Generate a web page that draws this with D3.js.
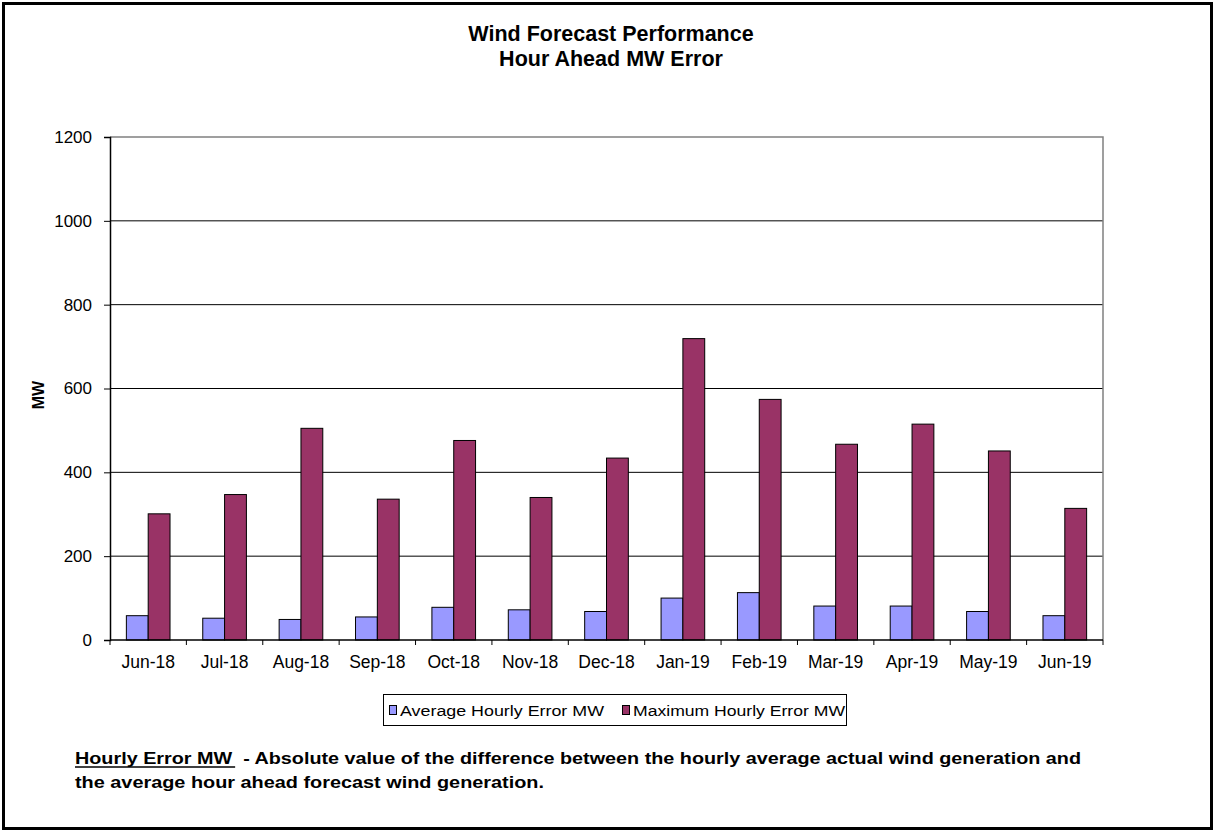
<!DOCTYPE html>
<html>
<head>
<meta charset="utf-8">
<script src="https://cdn.jsdelivr.net/npm/d3@7"></script>
<style>
  body { margin: 0; background: #fff; }
  text { font-family: "Liberation Sans", Arial, sans-serif; }
</style>
</head>
<body>
<svg id="chart" width="1215" height="833"></svg>
<script>
var months = ['Jun-18','Jul-18','Aug-18','Sep-18','Oct-18','Nov-18','Dec-18',
              'Jan-19','Feb-19','Mar-19','Apr-19','May-19','Jun-19'];
var avgError = [58, 52, 49, 55, 78, 72, 68, 100, 113, 81, 81, 68, 58];
var maxError = [301, 347, 505, 336, 476, 340, 434, 719, 574, 467, 515, 451, 314];
var yTicks = [0, 200, 400, 600, 800, 1000, 1200];
var seriesNames = ['Average Hourly Error MW', 'Maximum Hourly Error MW'];
var seriesColors = ['#9999ff', '#993366'];

var svg = d3.select('#chart');

// outer frame
svg.append('rect')
    .attr('x', 3.5).attr('y', 3.5)
    .attr('width', 1208).attr('height', 825)
    .attr('fill', '#fff')
    .attr('stroke', '#000')
    .attr('stroke-width', 3);

var plotLeft = 110, plotRight = 1103, plotTop = 137, plotBottom = 640;

var x = d3.scaleBand().domain(months).range([plotLeft, plotRight]);
var barW = x.bandwidth() / 3.5;
var y = d3.scaleLinear().domain([0, 1200]).range([plotBottom, plotTop]);

// title
svg.append('text')
    .attr('x', 611).attr('y', 41)
    .attr('text-anchor', 'middle')
    .attr('font-size', 21.5).attr('font-weight', 'bold')
    .text('Wind Forecast Performance');
svg.append('text')
    .attr('x', 611).attr('y', 66)
    .attr('text-anchor', 'middle')
    .attr('font-size', 21.5).attr('font-weight', 'bold')
    .text('Hour Ahead MW Error');

// gridlines
svg.append('g').selectAll('line')
    .data(yTicks.filter(function(d) { return d > 0 && d < 1200; }))
    .enter().append('line')
    .attr('x1', plotLeft).attr('x2', plotRight)
    .attr('y1', function(d) { return y(d); })
    .attr('y2', function(d) { return y(d); })
    .attr('stroke', '#000');

// plot border top/right (gray)
svg.append('path')
    .attr('d', 'M' + plotLeft + ',' + y(1200) + 'H' + plotRight + 'V' + plotBottom)
    .attr('fill', 'none')
    .attr('stroke', '#808080')
    .attr('stroke-width', 1.5);

// bars
var groups = svg.append('g').selectAll('g')
    .data(months)
    .enter().append('g')
    .attr('transform', function(d) {
        return 'translate(' + (x(d) + (x.bandwidth() - 2 * barW) / 2) + ',0)';
    });

groups.append('rect')
    .attr('x', 0)
    .attr('y', function(d, i) { return y(avgError[i]); })
    .attr('width', barW)
    .attr('height', function(d, i) { return plotBottom - y(avgError[i]); })
    .attr('fill', seriesColors[0])
    .attr('stroke', '#000');

groups.append('rect')
    .attr('x', barW)
    .attr('y', function(d, i) { return y(maxError[i]); })
    .attr('width', barW)
    .attr('height', function(d, i) { return plotBottom - y(maxError[i]); })
    .attr('fill', seriesColors[1])
    .attr('stroke', '#000');

// y axis
var yAxis = svg.append('g')
    .attr('transform', 'translate(' + plotLeft + ',0)')
    .call(d3.axisLeft(y).tickValues(yTicks).tickFormat(d3.format('d'))
        .tickSize(6).tickPadding(12));
yAxis.select('.domain').attr('stroke', '#000').attr('stroke-width', 1.5);
yAxis.selectAll('line').attr('stroke', '#000');
yAxis.selectAll('text').attr('font-size', 17).attr('fill', '#000')
    .style('font-family', '"Liberation Sans", Arial, sans-serif');

// x axis
var xTickPos = months.map(function(d) { return x(d); }).concat([plotRight]);
var xAxis = svg.append('g')
    .attr('transform', 'translate(0,' + plotBottom + ')');
xAxis.append('line')
    .attr('x1', plotLeft).attr('x2', plotRight)
    .attr('stroke', '#000').attr('stroke-width', 1.5);
xAxis.selectAll('line.tick')
    .data(xTickPos)
    .enter().append('line')
    .attr('class', 'tick')
    .attr('x1', function(d) { return d; })
    .attr('x2', function(d) { return d; })
    .attr('y1', 0).attr('y2', 5)
    .attr('stroke', '#000');
xAxis.selectAll('text')
    .data(months)
    .enter().append('text')
    .attr('x', function(d) { return x(d) + x.bandwidth() / 2; })
    .attr('y', 28)
    .attr('text-anchor', 'middle')
    .attr('font-size', 17.5)
    .text(function(d) { return d; });

// y title
svg.append('text')
    .attr('transform', 'translate(44,395) rotate(-90)')
    .attr('text-anchor', 'middle')
    .attr('font-size', 16).attr('font-weight', 'bold')
    .text('MW');

// legend
var legend = svg.append('g');
legend.append('rect')
    .attr('x', 383.5).attr('y', 694.5)
    .attr('width', 463).attr('height', 31)
    .attr('fill', '#fff').attr('stroke', '#000');
var legX = [389, 622];
seriesNames.forEach(function(name, i) {
    legend.append('rect')
        .attr('x', legX[i] + 0.5).attr('y', 705.5)
        .attr('width', 7).attr('height', 9)
        .attr('fill', seriesColors[i]).attr('stroke', '#000');
    legend.append('text')
        .attr('x', legX[i] + 11).attr('y', 716)
        .attr('font-size', 15.5)
        .attr('textLength', i === 0 ? 204 : 212)
        .attr('lengthAdjust', 'spacingAndGlyphs')
        .text(name);
});

// footnote
var note = svg.append('text')
    .attr('x', 75).attr('y', 764)
    .attr('font-size', 17).attr('font-weight', 'bold')
    .style('white-space', 'pre');
var head = note.append('tspan').text('Hourly Error MW');
note.append('tspan').text('  - Absolute value of the difference between the hourly average actual wind generation and');
var totalW = note.node().getComputedTextLength();
var headRaw = head.node().getComputedTextLength();
note.attr('textLength', 1006).attr('lengthAdjust', 'spacingAndGlyphs');
var headW = headRaw * 1006 / totalW;
svg.append('line')
    .attr('x1', 75).attr('x2', 75 + headW + 3)
    .attr('y1', 767).attr('y2', 767)
    .attr('stroke', '#000').attr('stroke-width', 1.5);

var note2 = svg.append('text')
    .attr('x', 75).attr('y', 788)
    .attr('font-size', 17).attr('font-weight', 'bold')
    .text('the average hour ahead forecast wind generation.');
note2.attr('textLength', 469).attr('lengthAdjust', 'spacingAndGlyphs');
</script>
</body>
</html>
